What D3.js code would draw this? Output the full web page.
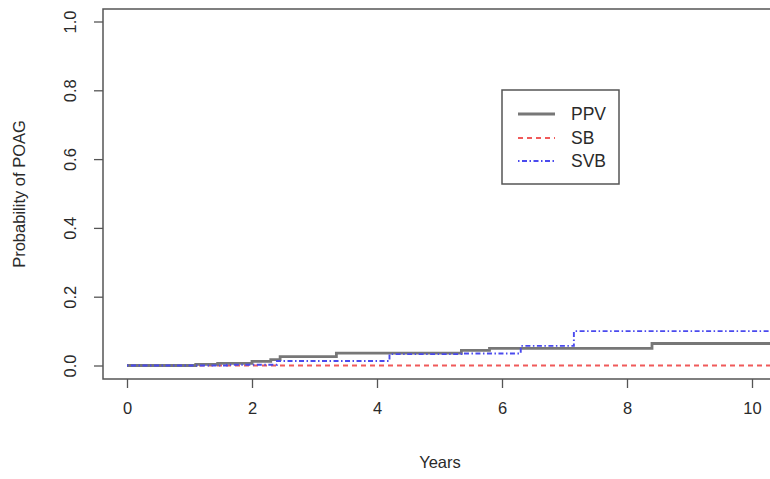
<!DOCTYPE html>
<html><head><meta charset="utf-8">
<script src="https://cdn.jsdelivr.net/npm/d3@7"></script>
<style>body{margin:0;background:#fff}svg{display:block}</style>
</head><body>
<script>
const xTicks = [0, 2, 4, 6, 8, 10];
const yTicks = [0, 0.2, 0.4, 0.6, 0.8, 1.0];
const seriesNames = ["PPV", "SB", "SVB"];
const ppvTimes  = [0, 1.1, 1.45, 2.0, 2.3, 2.45, 3.35, 5.35, 5.8, 8.4, 10.8];
const ppvValues = [0, 0.003, 0.006, 0.012, 0.017, 0.026, 0.036, 0.044, 0.05, 0.064, 0.064];
const sbTimes   = [0, 10.8];
const sbValues  = [0, 0];
const svbTimes  = [0, 1.6, 2.4, 4.2, 5.35, 6.3, 7.15, 10.8];
const svbValues = [0, 0.002, 0.013, 0.033, 0.035, 0.057, 0.1, 0.1];

const W = 770, H = 479;
const svg = d3.select("body").append("svg").attr("width", W).attr("height", H);
const x = d3.scaleLinear().domain([0, 10]).range([127, 752]);
const y = d3.scaleLinear().domain([0, 1]).range([365.5, 21.5]);
const box = {l: 103, t: 9, r: 790, b: 379};
const font = "'Liberation Sans', Arial, sans-serif";
const axCol = "#555";
const txtCol = "#2a2a2a";

svg.append("clipPath").attr("id","clip").append("rect")
  .attr("x", box.l).attr("y", box.t).attr("width", box.r - box.l).attr("height", box.b - box.t);

const styles = {
  PPV: {stroke: "#777777", width: 2.8, dash: null},
  SB:  {stroke: "#f05a5a", width: 1.9, dash: "5,4"},
  SVB: {stroke: "#4a4aee", width: 1.9, dash: "1.5,2.5,5,2.5"}
};
const data = {
  PPV: ppvTimes.map((t,i)=>[t, ppvValues[i]]),
  SB:  sbTimes.map((t,i)=>[t, sbValues[i]]),
  SVB: svbTimes.map((t,i)=>[t, svbValues[i]])
};
const line = d3.line().x(d=>x(d[0])).y(d=>y(d[1])).curve(d3.curveStepAfter);
const g = svg.append("g").attr("clip-path","url(#clip)");
["SB","PPV","SVB"].forEach(k=>{
  const s = styles[k];
  g.append("path").datum(data[k]).attr("d", line).attr("fill","none")
    .attr("stroke", s.stroke).attr("stroke-width", s.width)
    .attr("stroke-dasharray", s.dash);
});

// box
svg.append("rect").attr("x", box.l).attr("y", box.t).attr("width", box.r - box.l).attr("height", box.b - box.t)
  .attr("fill","none").attr("stroke", axCol).attr("stroke-width", 1.5);

// x axis
const xa = svg.append("g").attr("transform", `translate(0,${box.b})`)
  .call(d3.axisBottom(x).tickValues(xTicks).tickSize(9).tickPadding(14).tickFormat(d3.format("d")));
xa.select(".domain").remove();
xa.selectAll("line").attr("stroke", axCol).attr("stroke-width", 1.3);
xa.selectAll("text").attr("font-family", font).attr("font-size", 16.5).attr("fill", txtCol);

// y axis
const ya = svg.append("g").attr("transform", `translate(${box.l},0)`)
  .call(d3.axisLeft(y).tickValues(yTicks).tickSize(9).tickFormat(d3.format(".1f")));
ya.select(".domain").remove();
ya.selectAll("line").attr("stroke", axCol).attr("stroke-width", 1.3);
ya.selectAll("text").attr("font-family", font).attr("font-size", 16.5).attr("fill", txtCol)
  .attr("x", null).attr("dy", null)
  .attr("transform", "translate(-33,0) rotate(-90)")
  .attr("text-anchor", "middle").attr("dominant-baseline", "central");

// titles
svg.append("text").attr("x", 440).attr("y", 468).attr("text-anchor","middle")
  .attr("font-family", font).attr("font-size", 16.5).attr("fill",txtCol).text("Years");
svg.append("text").attr("transform", "translate(25,194) rotate(-90)").attr("text-anchor","middle")
  .attr("font-family", font).attr("font-size", 16.5).attr("fill",txtCol).text("Probability of POAG");

// legend
const lg = svg.append("g");
lg.append("rect").attr("x", 502).attr("y", 90).attr("width", 117).attr("height", 94)
  .attr("fill","#fff").attr("stroke", axCol).attr("stroke-width", 1.5);
const ly = [114, 138, 161];
seriesNames.forEach((k,i)=>{
  const s = styles[k];
  lg.append("line").attr("x1", 518).attr("x2", 555).attr("y1", ly[i]).attr("y2", ly[i])
    .attr("stroke", s.stroke).attr("stroke-width", s.width).attr("stroke-dasharray", s.dash);
  lg.append("text").attr("x", 571).attr("y", ly[i]).attr("dominant-baseline","central")
    .attr("font-family", font).attr("font-size", 17.5).attr("fill",txtCol).text(k);
});
</script>
</body></html>
